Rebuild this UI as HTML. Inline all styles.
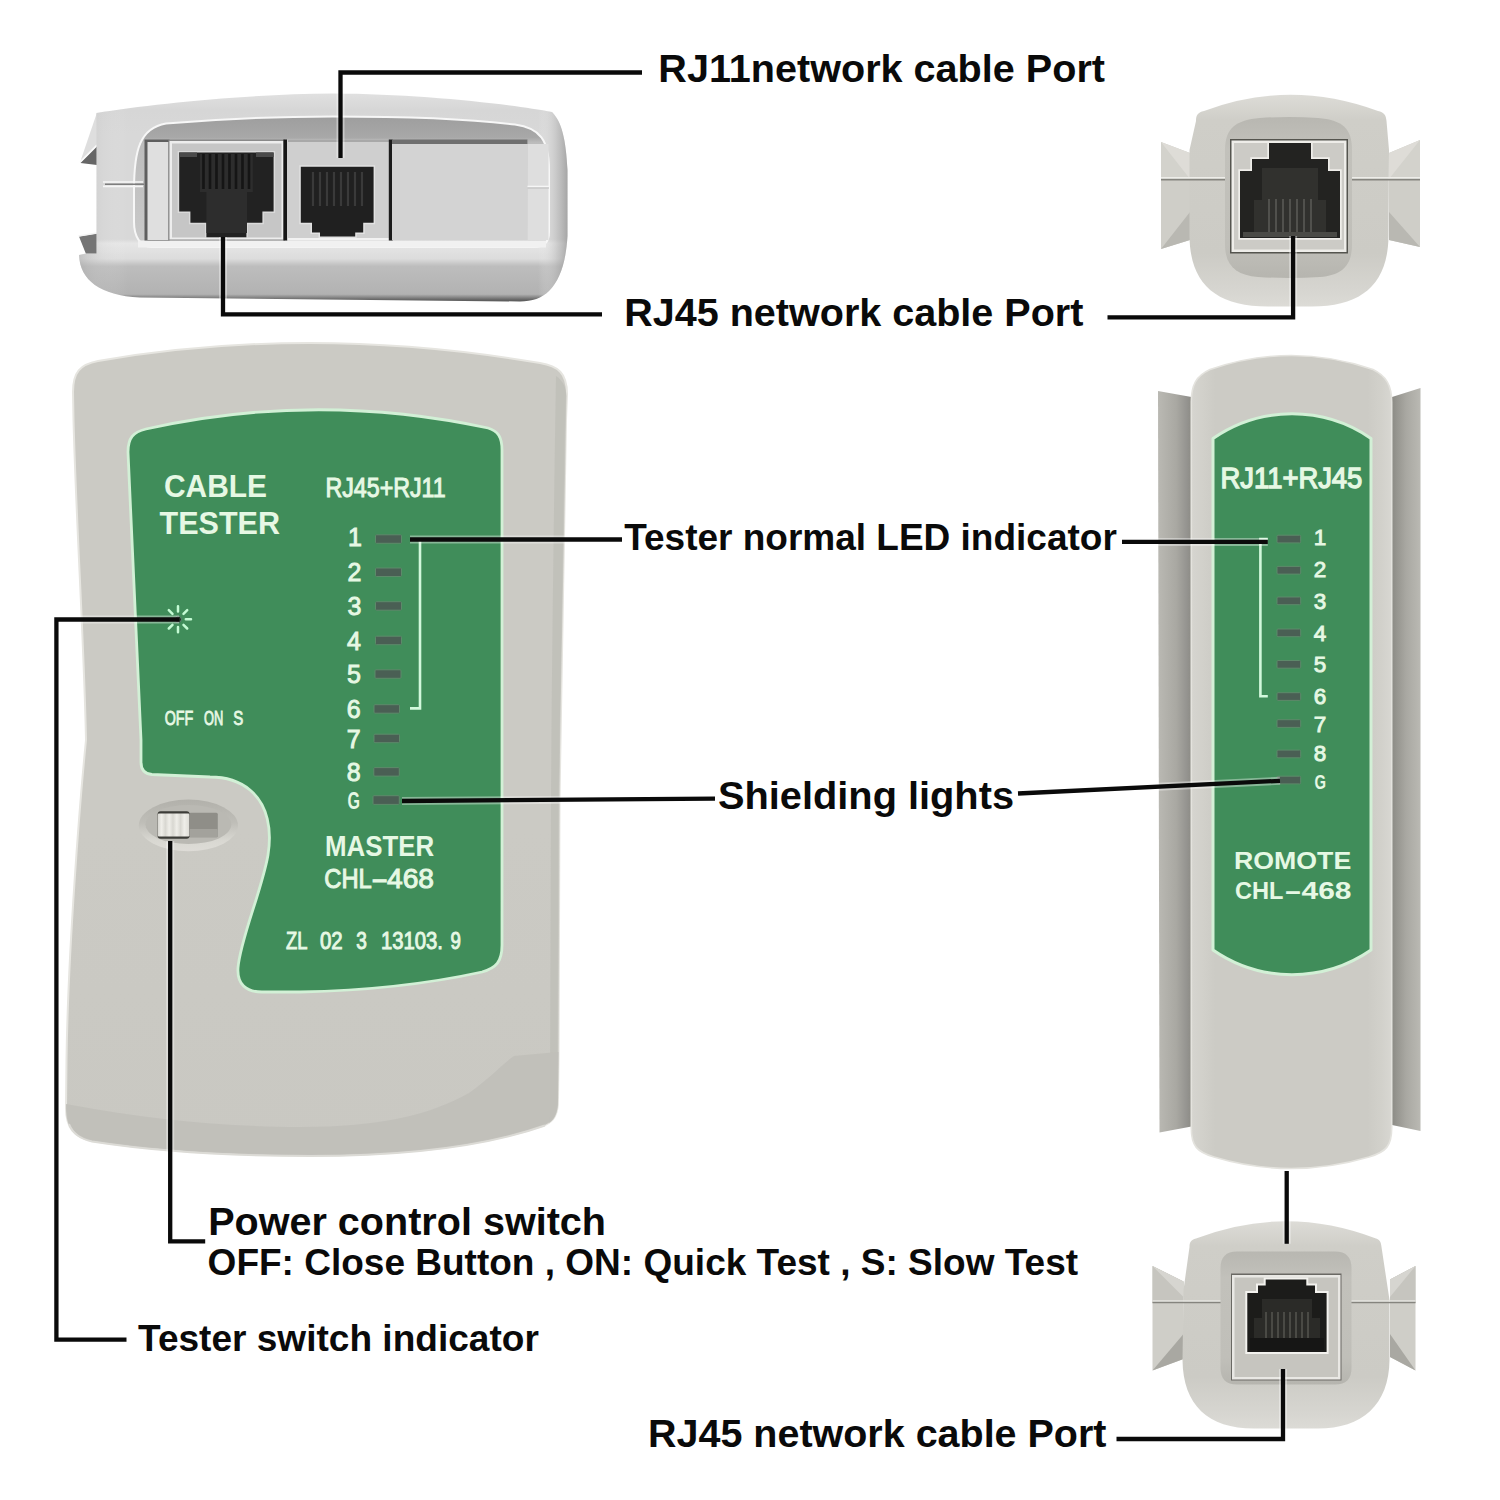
<!DOCTYPE html>
<html lang="en">
<head>
<meta charset="utf-8">
<title>Cable Tester Diagram</title>
<style>
html,body{margin:0;padding:0;background:#fff;}
body{width:1500px;height:1500px;overflow:hidden;font-family:"Liberation Sans",sans-serif;}
svg{display:block;position:absolute;left:0;top:0;}
.lbl{font-family:"Liberation Sans",sans-serif;font-weight:700;fill:#0a0a0a;}
.ln{fill:none;stroke:#0a0a0a;stroke-width:4.3;stroke-linejoin:miter;stroke-linecap:butt;}
.gt{font-family:"Liberation Sans",sans-serif;fill:#e6f8e4;}
</style>
</head>
<body>
<svg width="1500" height="1500" viewBox="0 0 1500 1500">
<defs>
<linearGradient id="mfBody" x1="0" y1="0" x2="0" y2="1">
<stop offset="0" stop-color="#cbcac4"/><stop offset="0.6" stop-color="#cbcac4"/><stop offset="1" stop-color="#c9c8c2"/>
</linearGradient>
<linearGradient id="swRecess" x1="0" y1="0" x2="0" y2="1">
<stop offset="0" stop-color="#b2b1ab"/><stop offset="0.45" stop-color="#bfbeb8"/><stop offset="0.8" stop-color="#d9d8d2"/><stop offset="1" stop-color="#dedcd7"/>
</linearGradient>
<linearGradient id="swKnob" x1="0" y1="0" x2="1" y2="0">
<stop offset="0" stop-color="#d8d7d1"/><stop offset="0.12" stop-color="#efeee9"/><stop offset="0.24" stop-color="#d8d7d1"/><stop offset="0.36" stop-color="#efeee9"/><stop offset="0.48" stop-color="#d8d7d1"/><stop offset="0.6" stop-color="#efeee9"/><stop offset="0.72" stop-color="#d8d7d1"/><stop offset="0.84" stop-color="#efeee9"/><stop offset="1" stop-color="#dddcd6"/>
</linearGradient>
<linearGradient id="meBody" x1="0" y1="0" x2="0" y2="1">
<stop offset="0" stop-color="#e0e0e0"/><stop offset="0.08" stop-color="#d6d6d6"/><stop offset="0.2" stop-color="#d8d8d8"/><stop offset="0.7" stop-color="#d8d8d8"/><stop offset="0.72" stop-color="#e6e6e6"/><stop offset="0.795" stop-color="#dcdcdc"/><stop offset="0.83" stop-color="#bdbdbd"/><stop offset="0.965" stop-color="#b2b2b2"/><stop offset="0.99" stop-color="#6a6a6a"/><stop offset="1" stop-color="#555"/>
</linearGradient>
<linearGradient id="meBodyH" x1="0" y1="0" x2="1" y2="0">
<stop offset="0" stop-color="#a8a8a8" stop-opacity="0.5"/><stop offset="0.05" stop-color="#cfcfcf" stop-opacity="0.15"/><stop offset="0.1" stop-color="#ffffff" stop-opacity="0"/><stop offset="0.94" stop-color="#ffffff" stop-opacity="0"/><stop offset="0.98" stop-color="#b0b0b0" stop-opacity="0.5"/><stop offset="1" stop-color="#909090" stop-opacity="0.7"/>
</linearGradient>
<linearGradient id="meRecess" x1="0" y1="0" x2="0" y2="1">
<stop offset="0" stop-color="#9e9e9e"/><stop offset="0.16" stop-color="#a8a8a8"/><stop offset="0.2" stop-color="#bcbcbc"/><stop offset="1" stop-color="#cacaca"/>
</linearGradient>
<linearGradient id="reBody" x1="0" y1="0" x2="0" y2="1">
<stop offset="0" stop-color="#dddcd7"/><stop offset="0.12" stop-color="#cfcec8"/><stop offset="0.75" stop-color="#cccbc5"/><stop offset="0.92" stop-color="#d6d5d0"/><stop offset="1" stop-color="#dcdbd6"/>
</linearGradient>
<linearGradient id="reRecess" x1="0" y1="0" x2="0" y2="1">
<stop offset="0" stop-color="#b8b7b1"/><stop offset="0.2" stop-color="#c2c1bb"/><stop offset="0.8" stop-color="#c0bfb9"/><stop offset="1" stop-color="#b6b5af"/>
</linearGradient>
<linearGradient id="rfBody" x1="0" y1="0" x2="1" y2="0">
<stop offset="0" stop-color="#d6d5d0"/><stop offset="0.05" stop-color="#d2d1cb"/><stop offset="0.12" stop-color="#cccbc5"/><stop offset="0.88" stop-color="#cccbc5"/><stop offset="0.95" stop-color="#d2d1cb"/><stop offset="1" stop-color="#d8d7d2"/>
</linearGradient>
<linearGradient id="rfWingL" x1="0" y1="0" x2="1" y2="0">
<stop offset="0" stop-color="#bab9b3"/><stop offset="0.55" stop-color="#a9a8a2"/><stop offset="0.85" stop-color="#959490"/><stop offset="1" stop-color="#8c8b85"/>
</linearGradient>
<linearGradient id="rfWingR" x1="0" y1="0" x2="1" y2="0">
<stop offset="0" stop-color="#8c8b85"/><stop offset="0.2" stop-color="#989791"/><stop offset="0.5" stop-color="#a9a8a2"/><stop offset="1" stop-color="#bab9b3"/>
</linearGradient>

</defs>
<rect x="0" y="0" width="1500" height="1500" fill="#ffffff"/>

<g id="master-end">
<!-- ears -->
<path d="M97,112.5 L80,162.5 L97,146 Z" fill="#dedede"/>
<path d="M97,146.5 L80.5,163 L97,165 Z" fill="#666"/>
<path d="M97,145 L80,162" stroke="#fafafa" stroke-width="1.6" fill="none"/>
<path d="M97,233.5 L79,236.5 L86,254 L97,254 Z" fill="#757575"/>
<path d="M97,233 L78.5,236" stroke="#f4f4f4" stroke-width="1.4" fill="none"/>
<!-- outer body -->
<path d="M96.5,113 C150,104 250,94 333,93.5 C420,94 510,104 552,112 C562,122 566,140 567.5,170 L567.5,236 C566,262 560,280 549,291 C542,298 532,301.5 520,301.5 L140,297.5 C100,295.5 80,280 79,255 L86,253.5 L96.5,253.5 Z" fill="url(#meBody)"/>
<path d="M96.5,113 C150,104 250,94 333,93.5 C420,94 510,104 552,112 C562,122 566,140 567.5,170 L567.5,236 C566,262 560,280 549,291 C542,298 532,301.5 520,301.5 L140,297.5 C100,295.5 80,280 79,255 L86,253.5 L96.5,253.5 Z" fill="url(#meBodyH)"/>
<!-- recess -->
<path d="M134,190 C134,150 140,128 166,123.5 C220,119 280,116.5 333,116.5 C400,116.5 470,119 515,124.5 C540,128 549,140 549,170 L549,232 C549,242 544,247 534,247 L152,247 C140,247 134,236 134,222 Z" fill="url(#meRecess)" stroke="#f7f7f7" stroke-width="2"/>
<rect x="138" y="240.5" width="408" height="7" fill="#f1f1f1"/>
<!-- seam -->
<path d="M103,182 H143 M103,186.4 H143" stroke="#f6f6f6" stroke-width="1.6" fill="none"/>
<path d="M105,184.2 H144" stroke="#7d7d7d" stroke-width="1.6" fill="none"/>
<!-- left strip -->
<rect x="144.5" y="139.5" width="25" height="101" fill="#5e5e5e"/>
<rect x="147.5" y="142" width="21" height="98" fill="#dfdfdf"/>
<!-- RJ45 frame -->
<rect x="168.5" y="139.5" width="116.5" height="101" fill="#8a8a8a"/>
<rect x="169.5" y="141" width="114" height="98.5" fill="#ededed"/>
<rect x="172" y="143.5" width="109.5" height="94" fill="#c6c6c6"/>
<!-- RJ45 hole -->
<path d="M177.7,150.9 H275.1 V213.1 H263.9 V224.3 H247.9 V238 H204.9 V224.3 H188.9 V213.1 H177.7 Z" fill="#dadada"/>
<path d="M179.2,152.4 H273.6 V211.6 H262.4 V222.8 H246.4 V237.2 H206.4 V222.8 H190.4 V211.6 H179.2 Z" fill="#222"/>
<path d="M179.2,152.4 H197 V157 H179.2 Z M256,152.4 H273.6 V157 H256 Z" fill="#4a4a4a"/>
<path d="M200,154 H252.8 V192 H247,V233 H206.4 V192 H200 Z" fill="#2d2d2d"/>
<g stroke="#151515" stroke-width="2.6"><path d="M203.5,154 V189 M210,154 V189 M216.5,154 V189 M223,154 V189 M229.5,154 V189 M236,154 V189 M242.5,154 V189 M249,154 V189"/></g>
<!-- divider -->
<rect x="283.4" y="139.5" width="3.8" height="101" fill="#161616"/>
<!-- RJ11 frame -->
<rect x="287" y="139.5" width="102" height="101" fill="#cfcfcf"/>
<rect x="288" y="139.5" width="101.5" height="2.5" fill="#a8a8a8"/>
<rect x="288" y="238" width="101.5" height="2.5" fill="#f2f2f2"/>
<!-- RJ11 hole -->
<path d="M299.3,165.3 H375.1 V224.3 H364.7 V233.9 H356.7 V238 H318.5 V233.9 H310.5 V224.3 H299.3 Z" fill="#e2e2e2"/>
<path d="M300.8,166.8 H373.6 V222.8 H363.2 V232.4 H355.2 V236.4 H320 V232.4 H312 V222.8 H300.8 Z" fill="#202020"/>
<g stroke="#3a3a3a" stroke-width="2.2"><path d="M313,172 V206 M320,172 V206 M327,172 V206 M334,172 V206 M341,172 V206 M348,172 V206 M355,172 V206 M362,172 V206"/></g>
<!-- divider 2 -->
<rect x="388.8" y="139.5" width="3.8" height="101" fill="#1c1c1c"/>
<!-- blank panel -->
<rect x="392" y="140" width="135.5" height="100" fill="#d3d3d3"/>
<rect x="392" y="139.5" width="135.5" height="4.5" fill="#6f6f6f"/>
<rect x="527.5" y="144" width="21" height="96" fill="#dedede"/>
<path d="M527.5,186.5 H549" stroke="#f6f6f6" stroke-width="1.6"/>
<path d="M527.5,188 H549" stroke="#c2c2c2" stroke-width="1.2"/>
</g>


<g id="remote-end-top">
<!-- wings -->
<path d="M1161,142 L1190,153 L1190,240 L1161,249 Z" fill="#cfcec8"/>
<path d="M1161,142 L1190,153 L1190,179 L1161,179 Z" fill="#dedcd7"/>
<path d="M1161,142 L1190,179 L1161,179 Z" fill="#d3d2cc"/>
<path d="M1161,249 L1190,212 L1190,240 Z" fill="#b9b8b2"/>
<path d="M1420,140 L1389,153 L1389,240 L1420,247 Z" fill="#cfcec8"/>
<path d="M1420,140 L1389,153 L1389,179 L1420,179 Z" fill="#dedcd7"/>
<path d="M1420,140 L1389,179 L1420,179 Z" fill="#d3d2cc"/>
<path d="M1420,247 L1389,212 L1389,240 Z" fill="#b9b8b2"/>
<!-- body -->
<path d="M1196,121 C1196,115 1198,112.5 1204,111 Q1290,78.5 1378,111 C1384,112.5 1386,115 1386.5,121 L1389,150 L1388.5,236 C1388,284 1362,306.5 1312,306.5 L1268,306.5 C1216,306.5 1190,284 1189.5,236 L1189.5,150 Z" fill="url(#reBody)"/>
<!-- seam -->
<path d="M1161,179.6 H1231 M1347,179.6 H1420" stroke="#85847e" stroke-width="1.8" fill="none"/>
<path d="M1161,177.8 H1231 M1347,177.8 H1420" stroke="#eeede9" stroke-width="1.4" fill="none"/>
<!-- recess -->
<path d="M1225,150 C1225,128 1236,120 1260,118 Q1289,116 1318,118 C1342,120 1352,128 1352,150 L1352,244 C1352,266 1342,275 1320,277 Q1289,279 1258,277 C1236,275 1225,266 1225,244 Z" fill="url(#reRecess)"/>
<!-- frame -->
<rect x="1230" y="139" width="118" height="114.5" fill="#55554f"/>
<rect x="1231.5" y="140.5" width="115" height="111.5" fill="#eeede9"/>
<rect x="1234" y="143" width="110" height="106.5" fill="#cccbc6"/>
<!-- hole -->
<path d="M1267.3,141.5 H1312.7 V157.3 H1329.7 V169.3 H1341.7 V239.7 H1238.3 V169.3 H1250.3 V157.3 H1267.3 Z" fill="#efeeea"/>
<path d="M1269,143 H1311 V159 H1328 V171 H1340 V238 H1240 V171 H1252 V159 H1269 Z" fill="#232321"/>
<path d="M1262,168 H1318 V200 H1326 V234 H1254 V200 H1262 Z" fill="#31312e"/>
<g stroke="#5a5a55" stroke-width="1.6"><path d="M1269,199 V234 M1276,199 V234 M1283,199 V234 M1290,199 V234 M1297,199 V234 M1304,199 V234 M1311,199 V234"/></g>
<rect x="1243" y="232" width="94" height="5" fill="#4a4a46"/>
</g>


<g id="master-front">
<path d="M73,392 C73,372 80,364.5 98,361 Q312,324 540,363 C558,366 567,373 567,394 L566,420 C563,600 560.5,700 559.5,800 L558.5,1060 L558,1100 C558,1114 554,1121 545,1125 C480,1148 400,1155.5 310,1155.5 C230,1155.5 150,1150 92,1141 C74,1137 66,1128 66,1108 L66.5,1060 C68,950 80,800 86,740 C84,640 76,520 73.5,420 Z" fill="url(#mfBody)" stroke="#e6e5e0" stroke-width="2"/>
<!-- right bevel -->
<path d="M556,376 C562,380 566,386 566.5,396 L566,420 C563,600 560.5,700 559.5,800 L558.5,1060 L558,1100 C558,1112 555,1119 549,1123 C550,1115 550,1108 550,1096 L551,800 C552,650 554,500 556,376 Z" fill="#bebdb7" opacity="0.75"/>
<!-- bottom bevel band -->
<path d="M66,1104 C150,1120 230,1127 300,1127 C380,1127 430,1115 469,1093 C490,1078 505,1062 514,1056 L558.5,1052 L558,1100 C558,1114 554,1121 545,1125 C480,1148 400,1155.5 310,1155.5 C230,1155.5 150,1150 92,1141 C74,1137 66,1128 66,1108 Z" fill="#c0bfb9" opacity="0.9"/>
<path d="M69,1124 C73,1134 80,1139 92,1141.5 C150,1150.5 230,1156 310,1156 C400,1156 480,1148.5 545,1125.5" fill="none" stroke="#dcdbd6" stroke-width="2"/>
<!-- green label -->
<path d="M128,452 C128,438 133,432 146,429 Q316,391 488,428 C498,431 502,437 502,450 L502,945 C502,962 496,968 482,972 Q400,990 300,992 L262,992 C246,992 237,984 238,968 C240,940 262,890 268,855 C272,830 268,805 250,790 C238,780 225,777 210,777 L152,774.5 C145,774 141,770 141,762 L141,740 C139,680 133,580 128,452 Z" fill="#408d5a" stroke="#d2f0d6" stroke-width="2.8"/>
<!-- titles -->
<text class="gt" x="164" y="496.8" font-size="30.5" font-weight="700" textLength="103" lengthAdjust="spacingAndGlyphs">CABLE</text>
<text class="gt" x="159.5" y="533.8" font-size="30.5" font-weight="700" textLength="120.5" lengthAdjust="spacingAndGlyphs">TESTER</text>
<text class="gt" x="325.5" y="496.5" font-size="26.8" textLength="120.2" lengthAdjust="spacingAndGlyphs" stroke="#e6f8e4" stroke-width="1">RJ45+RJ11</text>
<!-- LEDs -->
<g fill="#4a5f54" stroke="#5d8a6a" stroke-width="1">
<rect x="375.5" y="534.8" width="26" height="8.5" rx="1"/>
<rect x="375.5" y="568" width="26" height="8.5" rx="1"/>
<rect x="375.5" y="601.7" width="26" height="8.5" rx="1"/>
<rect x="375.5" y="636.2" width="26" height="8.5" rx="1"/>
<rect x="375" y="669.8" width="26" height="8.5" rx="1"/>
<rect x="374" y="704.7" width="25.5" height="8.5" rx="1"/>
<rect x="374" y="734.2" width="25.5" height="8.5" rx="1"/>
<rect x="373.8" y="767.6" width="25.5" height="8.5" rx="1"/>
<rect x="373" y="795.7" width="26.3" height="8.7" rx="1"/>
</g>
<g class="gt" font-size="25" text-anchor="middle" stroke="#e6f8e4" stroke-width="0.9">
<text x="355" y="546.1">1</text>
<text x="354.5" y="581.1">2</text>
<text x="354.5" y="615.1">3</text>
<text x="354" y="649.6">4</text>
<text x="354" y="683.1">5</text>
<text x="353.8" y="717.6">6</text>
<text x="353.8" y="748.1">7</text>
<text x="353.8" y="781.1">8</text>
</g>
<text class="gt" x="347.5" y="808.6" font-size="23" font-weight="700" textLength="12.5" lengthAdjust="spacingAndGlyphs">G</text>
<path d="M420,541 V708.4 H410" fill="none" stroke="#d2f8dc" stroke-width="2.6"/>
<!-- sun -->
<g stroke="#c4fbd4" stroke-width="2.5" stroke-linecap="round">
<path d="M185.8,619.3 L191.0,619.3 M183.5,624.8 L187.2,628.5 M178.0,627.1 L178.0,632.3 M172.5,624.8 L168.8,628.5 M172.5,613.8 L168.8,610.1 M178.0,611.5 L178.0,606.3 M183.5,613.8 L187.2,610.1"/>
</g>
<circle cx="178" cy="619.4" r="3.4" fill="#1c2a20" stroke="#5f8f74" stroke-width="1"/>
<text class="gt" y="724.6" font-size="20.5" stroke="#e6f8e4" stroke-width="0.9"><tspan x="164.7" textLength="28.6" lengthAdjust="spacingAndGlyphs">OFF</tspan> <tspan x="204" textLength="19.3" lengthAdjust="spacingAndGlyphs">ON</tspan> <tspan x="233.3" textLength="10" lengthAdjust="spacingAndGlyphs">S</tspan></text>
<!-- switch -->
<ellipse cx="188.4" cy="825.4" rx="49.6" ry="25.8" fill="url(#swRecess)"/>
<ellipse cx="188.4" cy="824.6" rx="43" ry="19.5" fill="#bab9b3"/>
<rect x="189" y="812.8" width="28.8" height="24.4" rx="1.5" fill="#8f8e88"/>
<rect x="189" y="829" width="28.8" height="8.2" rx="1" fill="#a3a29c"/>
<rect x="157.6" y="811.2" width="32" height="27.6" rx="3" fill="#3c3c38"/>
<rect x="157.8" y="813.6" width="31.6" height="22.8" rx="1.2" fill="url(#swKnob)"/>
<!-- bottom text -->
<text class="gt" x="325" y="855.8" font-size="28.8" font-weight="700" textLength="109.3" lengthAdjust="spacingAndGlyphs">MASTER</text>
<text class="gt" y="888" font-size="27.5" stroke="#e6f8e4" stroke-width="1"><tspan x="324.3" textLength="47.5" lengthAdjust="spacingAndGlyphs">CHL</tspan><tspan x="371.3" textLength="16.8" lengthAdjust="spacingAndGlyphs">-</tspan><tspan x="387" textLength="47" lengthAdjust="spacingAndGlyphs">468</tspan></text>
<text class="gt" y="949" font-size="24.5" stroke="#e6f8e4" stroke-width="1"><tspan x="286" textLength="20.7" lengthAdjust="spacingAndGlyphs">ZL</tspan> <tspan x="319.9" textLength="22.7" lengthAdjust="spacingAndGlyphs">02</tspan> <tspan x="356.2" textLength="10.6" lengthAdjust="spacingAndGlyphs">3</tspan> <tspan x="381" textLength="62" lengthAdjust="spacingAndGlyphs">13103.</tspan><tspan x="450.5" textLength="10.4" lengthAdjust="spacingAndGlyphs">9</tspan></text>
</g>


<g id="remote-front">
<!-- wings -->
<path d="M1158,391 L1191.5,397 L1191.5,1126.5 L1159.5,1132.5 Z" fill="url(#rfWingL)"/>
<path d="M1420.5,388 L1392,397 L1392,1125 L1420.5,1131 Z" fill="url(#rfWingR)"/>
<!-- body -->
<path d="M1191.3,402 C1191.3,385 1196,376 1210,369.5 Q1291,341.5 1373,369.5 C1386,376 1391.7,385 1391.7,402 L1391.7,1128 C1391.7,1146 1386,1152 1369,1157 Q1291,1180 1214,1157 C1197,1152 1191.3,1146 1191.3,1128 Z" fill="url(#rfBody)" stroke="#e4e3de" stroke-width="1.6"/>
<!-- label -->
<path d="M1213,438.5 A139,139 0 0 1 1371,438.5 L1371,950 A139,139 0 0 1 1213,950 Z" fill="#408d5a" stroke="#d2f0d6" stroke-width="3" stroke-linejoin="round"/>
<text class="gt" x="1220.5" y="488.4" font-size="29" textLength="141.8" lengthAdjust="spacingAndGlyphs" stroke="#e6f8e4" stroke-width="1.3">RJ11+RJ45</text>
<g fill="#4a5f54" stroke="#5d8a6a" stroke-width="1">
<rect x="1277" y="535.2" width="23.7" height="7.7" rx="1"/>
<rect x="1277" y="566.4" width="23.7" height="7.7" rx="1"/>
<rect x="1277" y="597" width="23.7" height="7.7" rx="1"/>
<rect x="1277" y="629" width="23.7" height="7.7" rx="1"/>
<rect x="1277" y="660.5" width="23.7" height="7.7" rx="1"/>
<rect x="1277" y="692.7" width="23.7" height="7.7" rx="1"/>
<rect x="1277" y="719.7" width="23.7" height="7.7" rx="1"/>
<rect x="1277" y="750.1" width="23.7" height="7.7" rx="1"/>
<rect x="1277" y="776.2" width="23.7" height="7.7" rx="1"/>
</g>
<g class="gt" font-size="22.5" text-anchor="middle" stroke="#e6f8e4" stroke-width="0.9">
<text x="1320" y="545.4">1</text>
<text x="1320" y="577.4">2</text>
<text x="1320" y="609">3</text>
<text x="1320" y="640.8">4</text>
<text x="1320" y="672.4">5</text>
<text x="1320" y="704.2">6</text>
<text x="1320" y="732">7</text>
<text x="1320" y="760.8">8</text>
</g>
<text class="gt" x="1314.5" y="788.6" font-size="21" font-weight="700" textLength="11.5" lengthAdjust="spacingAndGlyphs">G</text>
<path d="M1267.8,539 H1260.4 V696.2 H1267.8" fill="none" stroke="#d2f8dc" stroke-width="2.6"/>
<text class="gt" x="1234" y="868.7" font-size="24.4" font-weight="700" textLength="117.2" lengthAdjust="spacingAndGlyphs">ROMOTE</text>
<text class="gt" y="899" font-size="23.3" font-weight="700"><tspan x="1235" textLength="48.5" lengthAdjust="spacingAndGlyphs">CHL</tspan><tspan x="1284" textLength="18" lengthAdjust="spacingAndGlyphs">-</tspan><tspan x="1301.5" textLength="50" lengthAdjust="spacingAndGlyphs">468</tspan></text>
</g>


<g id="remote-end-bottom">
<!-- wings -->
<path d="M1152.5,1266 L1183.5,1281.5 L1183.5,1359 L1152.5,1370.5 Z" fill="#cfcec8"/>
<path d="M1152.5,1266 L1183.5,1281.5 L1183.5,1303 L1152.5,1303 Z" fill="#c6c5bf"/>
<path d="M1152.5,1266 L1183.5,1297 L1183.5,1281.5 Z" fill="#d6d5d0"/>
<path d="M1152.5,1370.5 L1183.5,1334 L1183.5,1359 Z" fill="#a9a8a2"/>
<path d="M1415.5,1266 L1390,1279.5 L1390,1357 L1415.5,1370.5 Z" fill="#cfcec8"/>
<path d="M1415.5,1266 L1390,1279.5 L1390,1303 L1415.5,1303 Z" fill="#c6c5bf"/>
<path d="M1415.5,1266 L1390,1297 L1390,1279.5 Z" fill="#d6d5d0"/>
<path d="M1415.5,1370.5 L1390,1334 L1390,1357 Z" fill="#a9a8a2"/>
<!-- body -->
<path d="M1189.5,1247 C1189.5,1242 1191,1240 1196,1238.5 Q1286,1204 1376,1238.5 C1380,1240 1381,1242 1381.5,1247 L1389.5,1300 L1389.5,1360 C1389,1405 1362,1428.5 1318,1428.5 L1254,1428.5 C1208,1428.5 1183,1405 1182.5,1360 L1183.5,1290 Z" fill="url(#reBody)"/>
<path d="M1152.5,1302.5 H1231 M1342,1302.5 H1415.5" stroke="#85847e" stroke-width="1.6" fill="none"/>
<path d="M1152.5,1300.8 H1231 M1342,1300.8 H1415.5" stroke="#e6e5e1" stroke-width="1.2" fill="none"/>
<!-- recess -->
<path d="M1220.5,1268 C1220.5,1257 1226,1251.5 1237,1251.5 L1335,1251.5 C1346,1251.5 1351.5,1257 1351.5,1268 L1351.5,1368 C1351.5,1379 1346,1384.5 1335,1384.5 L1237,1384.5 C1226,1384.5 1220.5,1379 1220.5,1368 Z" fill="url(#reRecess)"/>
<!-- frame -->
<rect x="1231" y="1273.5" width="110.5" height="107" fill="#6a6964"/>
<rect x="1232" y="1275" width="108.5" height="104.5" fill="#e9e8e4"/>
<rect x="1234.5" y="1277.5" width="103.5" height="99.5" fill="#c6c5bf"/>
<!-- hole -->
<path d="M1263.7,1277.6 H1308.3 V1283.4 H1317 V1291 H1328.6 V1354 H1245.3 V1291 H1256 V1283.4 H1263.7 Z" fill="#f3f2ee"/>
<path d="M1265.7,1279.6 H1306.3 V1285.4 H1315 V1293 H1326.6 V1352 H1247.3 V1293 H1258 V1285.4 H1265.7 Z" fill="#1c1c1a"/>
<path d="M1262,1299 H1312 V1318 H1320 V1348 H1254 V1318 H1262 Z" fill="#2b2b28"/>
<g stroke="#55554f" stroke-width="1.5"><path d="M1266,1312 V1338 M1272,1312 V1338 M1278,1312 V1338 M1284,1312 V1338 M1290,1312 V1338 M1296,1312 V1338 M1302,1312 V1338 M1308,1312 V1338"/></g>
<rect x="1250" y="1338" width="74" height="12" fill="#161615"/>
</g>


<!--LEADERS-->
<g id="leaders">
<g style="stroke:#fff;stroke-width:8;opacity:0.38;fill:none" id="halo">
<path d="M642,72.5 H340.5 V158" fill="none"/>
<path d="M223,237 V314.4 H602" fill="none"/>
<path d="M1107.5,317.3 H1293.1 V236" fill="none"/>
<path d="M410,539.5 H622" fill="none"/>
<path d="M1122,541.9 H1267.8" fill="none"/>
<path d="M402,801 L715,798.7" fill="none"/>
<path d="M1018,793.5 L1280,780.8" fill="none"/>
<path d="M179,619.5 H56.4 V1339.7 H126.5" fill="none"/>
<path d="M170.2,841 V1241.3 H205.2" fill="none"/>
<path d="M1286.7,1171 V1243.8" fill="none"/>
<path d="M1116.5,1439 H1283 V1369" fill="none"/>
</g>
<path class="ln" d="M642,72.5 H340.5 V158"/>
<path class="ln" d="M223,237 V314.4 H602"/>
<path class="ln" d="M1107.5,317.3 H1293.1 V236"/>
<path class="ln" d="M410,539.5 H622"/>
<path class="ln" d="M1122,541.9 H1267.8"/>
<path class="ln" d="M402,801 L715,798.7"/>
<path class="ln" d="M1018,793.5 L1280,780.8"/>
<path class="ln" d="M179,619.5 H56.4 V1339.7 H126.5"/>
<path class="ln" d="M170.2,841 V1241.3 H205.2"/>
<path class="ln" d="M1286.7,1171 V1243.8"/>
<path class="ln" d="M1116.5,1439 H1283 V1369"/>
</g>

<!--LABELS-->
<g id="labels">
<text class="lbl" x="658.3" y="81.9" font-size="38.9" textLength="446.7" lengthAdjust="spacingAndGlyphs">RJ11network cable Port</text>
<text class="lbl" x="624.2" y="325.9" font-size="38.9" textLength="459.2" lengthAdjust="spacingAndGlyphs">RJ45 network cable Port</text>
<text class="lbl" x="624.2" y="549.8" font-size="36.2" textLength="492.6" lengthAdjust="spacingAndGlyphs">Tester normal LED indicator</text>
<text class="lbl" x="718" y="808.6" font-size="38.9" textLength="296" lengthAdjust="spacingAndGlyphs">Shielding lights</text>
<text class="lbl" x="208.2" y="1235.2" font-size="38.9" textLength="397.8" lengthAdjust="spacingAndGlyphs">Power control switch</text>
<text class="lbl" x="207.6" y="1274.6" font-size="36.2" textLength="870.5" lengthAdjust="spacingAndGlyphs">OFF: Close Button , ON: Quick Test , S: Slow Test</text>
<text class="lbl" x="138" y="1350.5" font-size="36.2" textLength="400.8" lengthAdjust="spacingAndGlyphs">Tester switch indicator</text>
<text class="lbl" x="648" y="1447" font-size="38.9" textLength="458.5" lengthAdjust="spacingAndGlyphs">RJ45 network cable Port</text>
</g>
</svg>
</body>
</html>
